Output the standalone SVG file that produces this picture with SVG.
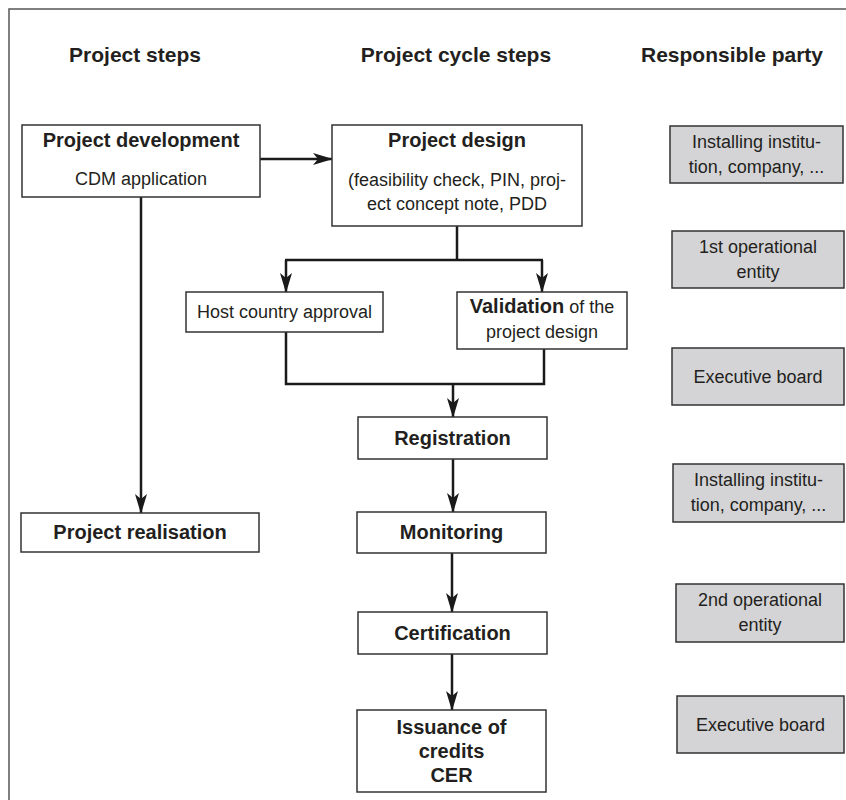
<svg xmlns="http://www.w3.org/2000/svg" width="846" height="800" viewBox="0 0 846 800">
<style>
  text { font-family: "Liberation Sans", Arial, sans-serif; fill: #231f20; text-anchor: middle; }
  .hd { font-size: 21px; font-weight: bold; }
  .b { font-size: 20px; font-weight: bold; }
  .r { font-size: 18px; }
  .box { fill: #ffffff; stroke: #333333; stroke-width: 1.5; }
  .gbox { fill: #d4d4d6; stroke: #333333; stroke-width: 1.5; }
  .ln { fill: none; stroke: #1a1a1a; stroke-width: 2.5; }
  .frame { fill: none; stroke: #555555; stroke-width: 1.5; }
</style>
<defs>
  <marker id="arr" viewBox="0 0 20 12" refX="19" refY="6" markerWidth="20" markerHeight="12" markerUnits="userSpaceOnUse" orient="auto">
    <path d="M0,0 L20,6 L0,12 L5,6 Z" fill="#1a1a1a"/>
  </marker>
</defs>
<rect width="846" height="800" fill="#ffffff"/>
<path class="frame" d="M9,800 V9 H846"/>

<g id="headers">
  <text class="hd" x="135" y="62">Project steps</text>
  <text class="hd" x="456" y="62">Project cycle steps</text>
  <text class="hd" x="732" y="62">Responsible party</text>
</g>

<g id="connectors">
  <path class="ln" d="M260,159 H332" marker-end="url(#arr)"/>
  <path class="ln" d="M141,197 V513" marker-end="url(#arr)"/>
  <path class="ln" d="M457,226 V260"/>
  <path class="ln" d="M285,260 H543"/>
  <path class="ln" d="M286,260 V292" marker-end="url(#arr)"/>
  <path class="ln" d="M542,260 V292" marker-end="url(#arr)"/>
  <path class="ln" d="M286,332 V384 H544 V349"/>
  <path class="ln" d="M453,384 V417" marker-end="url(#arr)"/>
  <path class="ln" d="M453,459 V512" marker-end="url(#arr)"/>
  <path class="ln" d="M452,553 V612" marker-end="url(#arr)"/>
  <path class="ln" d="M452,654 V710" marker-end="url(#arr)"/>
</g>

<g id="project-development">
  <rect class="box" x="22" y="125" width="238" height="72"/>
  <text class="b" x="141" y="147">Project development</text>
  <text class="r" x="141" y="185">CDM application</text>
</g>
<g id="project-realisation">
  <rect class="box" x="21" y="513" width="238" height="39"/>
  <text class="b" x="140" y="539">Project realisation</text>
</g>
<g id="project-design">
  <rect class="box" x="332" y="125" width="250" height="101"/>
  <text class="b" x="457" y="147">Project design</text>
  <text class="r" x="457" y="186">(feasibility check, PIN, proj-</text>
  <text class="r" x="457" y="210">ect concept note, PDD</text>
</g>
<g id="host-country-approval">
  <rect class="box" x="186" y="292" width="197" height="40"/>
  <text class="r" x="284.5" y="318">Host country approval</text>
</g>
<g id="validation">
  <rect class="box" x="457" y="292" width="170" height="57"/>
  <text x="542" y="313"><tspan class="b">Validation</tspan><tspan class="r"> of the</tspan></text>
  <text class="r" x="542" y="338">project design</text>
</g>
<g id="registration">
  <rect class="box" x="358" y="417" width="189" height="42"/>
  <text class="b" x="452.5" y="445">Registration</text>
</g>
<g id="monitoring">
  <rect class="box" x="357" y="512" width="189" height="41"/>
  <text class="b" x="451.5" y="539">Monitoring</text>
</g>
<g id="certification">
  <rect class="box" x="358" y="612" width="189" height="42"/>
  <text class="b" x="452.5" y="640">Certification</text>
</g>
<g id="issuance">
  <rect class="box" x="357" y="710" width="189" height="82"/>
  <text class="b" x="451.5" y="734">Issuance of</text>
  <text class="b" x="451.5" y="758">credits</text>
  <text class="b" x="451.5" y="782">CER</text>
</g>

<g id="party-1">
  <rect class="gbox" x="670" y="126" width="173" height="57"/>
  <text class="r" x="756.5" y="148">Installing institu-</text>
  <text class="r" x="756.5" y="173">tion, company, ...</text>
</g>
<g id="party-2">
  <rect class="gbox" x="672" y="231" width="172" height="57"/>
  <text class="r" x="758" y="253">1st operational</text>
  <text class="r" x="758" y="278">entity</text>
</g>
<g id="party-3">
  <rect class="gbox" x="672" y="348" width="172" height="57"/>
  <text class="r" x="758" y="383">Executive board</text>
</g>
<g id="party-4">
  <rect class="gbox" x="673" y="464" width="171" height="58"/>
  <text class="r" x="758.5" y="486">Installing institu-</text>
  <text class="r" x="758.5" y="511">tion, company, ...</text>
</g>
<g id="party-5">
  <rect class="gbox" x="676" y="584" width="168" height="58"/>
  <text class="r" x="760" y="606">2nd operational</text>
  <text class="r" x="760" y="631">entity</text>
</g>
<g id="party-6">
  <rect class="gbox" x="677" y="696" width="167" height="57"/>
  <text class="r" x="760.5" y="731">Executive board</text>
</g>
</svg>
